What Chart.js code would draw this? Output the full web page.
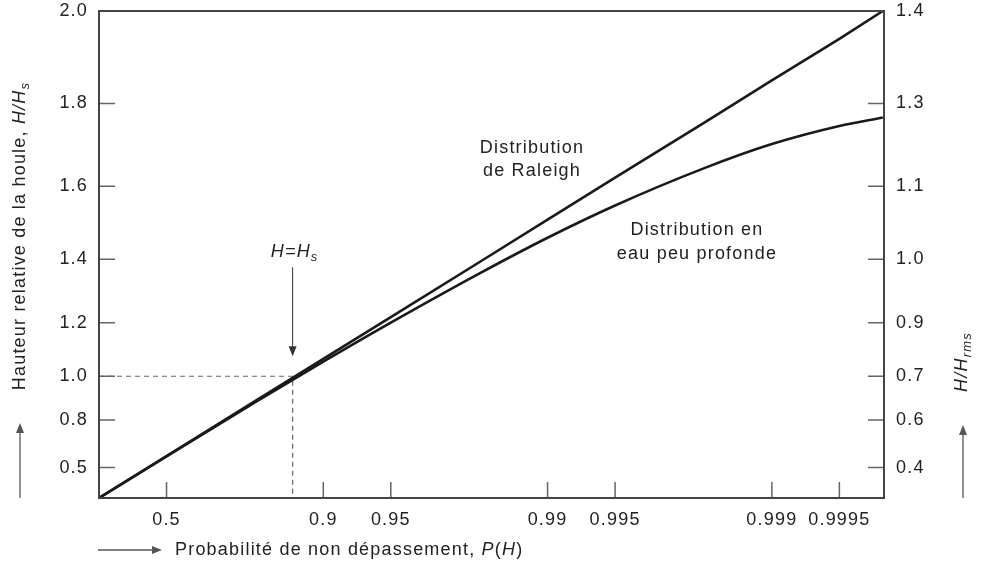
<!DOCTYPE html>
<html lang="fr">
<head>
<meta charset="UTF-8">
<title>Distribution des hauteurs de houle</title>
<style>
  body { margin: 0; background: #fff; }
  #cadre { width: 987px; height: 564px; position: relative; }
</style>
</head>
<body>
<div id="cadre"><canvas id="graphe"></canvas></div>
<script src="https://cdn.jsdelivr.net/npm/chart.js"></script>
<script>
// probabilités de non dépassement où les courbes ont été relevées
const probas = [0, 0.5, 0.8, 0.9, 0.95, 0.98, 0.99, 0.995, 0.998, 0.999, 0.9995, 0.99968];
const hRaleigh = [0, 0.587, 0.894, 1.069, 1.219, 1.393, 1.512, 1.622, 1.756, 1.852, 1.942, 2.0];
const hPeuProfonde = [0, 0.585, 0.888, 1.058, 1.200, 1.359, 1.462, 1.550, 1.646, 1.705, 1.748, 1.768];

// graduations
const ticksP = [0.5, 0.9, 0.95, 0.99, 0.995, 0.999, 0.9995];
const labelsP = ['0.5', '0.9', '0.95', '0.99', '0.995', '0.999', '0.9995'];
const ticksH = [0.5, 0.8, 1.0, 1.2, 1.4, 1.6, 1.8, 2.0];
const labelsH = ['0.5', '0.8', '1.0', '1.2', '1.4', '1.6', '1.8', '2.0'];
const labelsHrms = ['0.4', '0.6', '0.7', '0.9', '1.0', '1.1', '1.3', '1.4'];

// point H = Hs sur la droite de Raleigh
const pRepere = 0.863;
const hRepere = 1.0;

// papier de probabilité : x = -log10(1-P), y = (H/Hs)^2
const axeP = p => -Math.log10(1 - p);
const axeH = h => h * h;

const POLICE = '"Liberation Sans", Arial, sans-serif';
const ESPACE = '1.2px';

function police(style) {
  if (style === 'i') return 'italic 18px ' + POLICE;
  if (style === 'is') return 'italic 13px ' + POLICE;
  return '18px ' + POLICE;
}

// texte avec italique et indice
function texteRiche(ctx, morceaux, x, y, align) {
  const larg = morceaux.map(([t, s]) => { ctx.font = police(s); return ctx.measureText(t).width; });
  const total = larg.reduce((a, b) => a + b, 0);
  let cx = align === 'center' ? x - total / 2 : x;
  ctx.textAlign = 'left';
  ctx.textBaseline = 'middle';
  morceaux.forEach(([t, s], i) => {
    ctx.font = police(s);
    ctx.fillText(t, cx, s === 'is' ? y + 5 : y);
    cx += larg[i];
  });
}

function fleche(ctx, x1, y1, x2, y2) {
  const ang = Math.atan2(y2 - y1, x2 - x1);
  ctx.beginPath();
  ctx.moveTo(x1, y1);
  ctx.lineTo(x2 - 8 * Math.cos(ang), y2 - 8 * Math.sin(ang));
  ctx.stroke();
  ctx.beginPath();
  ctx.moveTo(x2, y2);
  ctx.lineTo(x2 - 10 * Math.cos(ang) + 4 * Math.sin(ang), y2 - 10 * Math.sin(ang) - 4 * Math.cos(ang));
  ctx.lineTo(x2 - 10 * Math.cos(ang) - 4 * Math.sin(ang), y2 - 10 * Math.sin(ang) + 4 * Math.cos(ang));
  ctx.closePath();
  ctx.fill();
}

const espacement = {
  id: 'espacement',
  beforeDraw(chart) { chart.ctx.letterSpacing = ESPACE; }
};

const cadre = {
  id: 'cadre',
  afterDraw(chart) {
    const { ctx, chartArea: a, scales } = chart;
    ctx.save();
    ctx.strokeStyle = '#666';
    ctx.lineWidth = 1.5;
    ctx.beginPath();
    scales.x.ticks.forEach(t => {
      const px = scales.x.getPixelForValue(t.value);
      ctx.moveTo(px, a.bottom); ctx.lineTo(px, a.bottom - 16);
    });
    scales.y.ticks.forEach(t => {
      const py = scales.y.getPixelForValue(t.value);
      ctx.moveTo(a.left, py); ctx.lineTo(a.left + 16, py);
    });
    scales.y2.ticks.forEach(t => {
      const py = scales.y2.getPixelForValue(t.value);
      ctx.moveTo(a.right, py); ctx.lineTo(a.right - 16, py);
    });
    ctx.stroke();
    ctx.strokeStyle = '#444';
    ctx.lineWidth = 2;
    ctx.strokeRect(a.left, a.top, a.right - a.left, a.bottom - a.top);
    ctx.restore();
  }
};

const textes = {
  id: 'textes',
  afterDraw(chart) {
    const { ctx, chartArea: a, scales } = chart;
    ctx.save();
    ctx.letterSpacing = ESPACE;
    ctx.fillStyle = '#222';
    ctx.strokeStyle = '#555';
    ctx.lineWidth = 1.3;

    // titres des axes
    texteRiche(ctx, [['Probabilité de non dépassement, ', ''], ['P', 'i'], ['(', ''], ['H', 'i'], [')', '']], 175, 550, 'left');
    ctx.fillStyle = '#555';
    fleche(ctx, a.left - 1, 550, 162, 550);
    fleche(ctx, 20, a.bottom, 20, 423);
    fleche(ctx, 963, a.bottom, 963, 425);

    ctx.fillStyle = '#222';
    ctx.save();
    ctx.translate(20, 236);
    ctx.rotate(-Math.PI / 2);
    texteRiche(ctx, [['Hauteur relative de la houle, ', ''], ['H/H', 'i'], ['s', 'is']], 0, 0, 'center');
    ctx.restore();

    ctx.save();
    ctx.translate(962, 362);
    ctx.rotate(-Math.PI / 2);
    texteRiche(ctx, [['H/H', 'i'], ['rms', 'is']], 0, 0, 'center');
    ctx.restore();

    // annotations
    texteRiche(ctx, [['Distribution', '']], 532, 148, 'center');
    texteRiche(ctx, [['de Raleigh', '']], 532, 171, 'center');
    texteRiche(ctx, [['Distribution en', '']], 697, 230, 'center');
    texteRiche(ctx, [['eau peu profonde', '']], 697, 254, 'center');

    const xr = scales.x.getPixelForValue(axeP(pRepere));
    const yr = scales.y.getPixelForValue(axeH(hRepere));
    texteRiche(ctx, [['H=H', 'i'], ['s', 'is']], xr + 2, yr - 124, 'center');
    ctx.fillStyle = '#333';
    ctx.strokeStyle = '#333';
    ctx.lineWidth = 1;
    fleche(ctx, xr, yr - 109, xr, yr - 20);
    ctx.restore();
  }
};

const versPoints = hs => probas.map((p, i) => ({ x: axeP(p), y: axeH(hs[i]) }));

// largeurs fixes des axes, sans marge ajoutée pour les étiquettes
const fixeLargeur = w => s => { s.width = w; s.paddingTop = 0; s.paddingBottom = 0; };

const grapheCtx = document.getElementById('graphe').getContext('2d');
new Chart(grapheCtx, {
  type: 'scatter',
  data: {
    datasets: [
      {
        label: 'Distribution de Raleigh',
        data: versPoints(hRaleigh),
        showLine: true,
        borderColor: '#1a1a1a',
        borderWidth: 2.6,
        pointRadius: 0,
        tension: 0
      },
      {
        label: 'Distribution en eau peu profonde',
        data: versPoints(hPeuProfonde),
        showLine: true,
        borderColor: '#1a1a1a',
        borderWidth: 2.6,
        pointRadius: 0,
        cubicInterpolationMode: 'monotone'
      },
      {
        label: 'H = Hs',
        data: [
          { x: axeP(0), y: axeH(hRepere) },
          { x: axeP(pRepere), y: axeH(hRepere) },
          { x: axeP(pRepere), y: axeH(0) }
        ],
        showLine: true,
        borderColor: '#666',
        borderWidth: 1.2,
        borderDash: [5, 4],
        pointRadius: 0,
        tension: 0
      }
    ]
  },
  options: {
    responsive: true,
    maintainAspectRatio: false,
    animation: false,
    layout: { padding: { top: 11, left: 0, right: 0, bottom: 0 } },
    plugins: {
      legend: { display: false },
      tooltip: { enabled: false }
    },
    scales: {
      x: {
        type: 'linear',
        min: 0,
        max: 3.5,
        grid: { display: false, drawTicks: false },
        border: { display: false },
        afterBuildTicks: s => { s.ticks = ticksP.map(p => ({ value: axeP(p) })); },
        afterFit: s => { s.height = 66; },
        ticks: {
          autoSkip: false,
          maxRotation: 0,
          padding: 11,
          color: '#222',
          font: { family: POLICE, size: 18 },
          callback: (v, i) => labelsP[i]
        }
      },
      y: {
        type: 'linear',
        position: 'left',
        min: 0,
        max: 4,
        grid: { display: false, drawTicks: false },
        border: { display: false },
        afterBuildTicks: s => { s.ticks = ticksH.map(h => ({ value: axeH(h) })); },
        afterFit: fixeLargeur(99),
        ticks: {
          autoSkip: false,
          padding: 11,
          color: '#222',
          font: { family: POLICE, size: 18 },
          callback: (v, i) => labelsH[i]
        }
      },
      y2: {
        type: 'linear',
        position: 'right',
        min: 0,
        max: 4,
        grid: { display: false, drawTicks: false },
        border: { display: false },
        afterBuildTicks: s => { s.ticks = ticksH.map(h => ({ value: axeH(h) })); },
        afterFit: fixeLargeur(103),
        ticks: {
          autoSkip: false,
          padding: 12,
          color: '#222',
          font: { family: POLICE, size: 18 },
          callback: (v, i) => labelsHrms[i]
        }
      }
    }
  },
  plugins: [espacement, cadre, textes]
});
</script>
</body>
</html>
